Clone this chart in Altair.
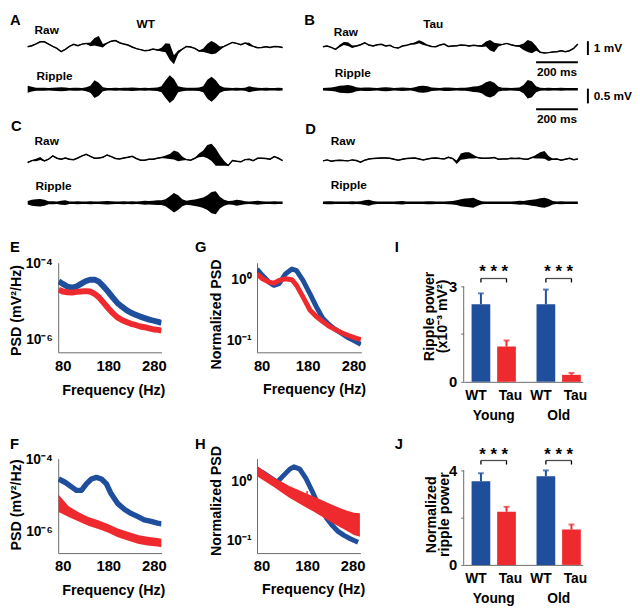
import altair as alt
import pandas as pd

BLUE = "#1f4e9c"
RED = "#ee2a2e"
AX = "#6a6a6a"
FONT = "Liberation Sans"

# ---------------- trace data (mV, one sample every 20 ms) ----------------
DT = 20
T_END = 1220

RAW_A = [0.00, 0.07, 0.21, 0.36, 0.36, 0.19, 0.02, -0.12, -0.36, -0.19,
         0.02, 0.17, 0.07, 0.19, 0.24, 0.17, 0.36, 0.40, 0.07, 0.26,
         0.40, 0.45, 0.29, 0.19, 0.12, -0.02, -0.14, -0.21, -0.29, -0.26,
         -0.17, -0.24, -0.21, -0.07, -0.36, -0.95, -0.40, -0.17, 0.02, -0.02,
         -0.12, -0.31, -0.26, -0.12, -0.07, -0.12, -0.12, 0.02, 0.17, 0.31,
         0.24, 0.14, 0.26, 0.17, 0.02, -0.07, -0.05, 0.00, -0.05, 0.02,
         0.00, -0.05]
RAW_A_BURST = [0, 0, 0, 0, 0, 0, 0, 0, 0, 0,
               0, 0, 0, 0, 0, 0.10, 0.25, 0.35, 0.10, 0,
               0, 0, 0, 0, 0, 0, 0, 0, 0, 0,
               0, 0, 0.10, 0.30, 0.55, 0.30, 0.10, 0, 0, 0,
               0, 0, 0.10, 0.30, 0.45, 0.35, 0.10, 0, 0, 0,
               0, 0, 0, 0.08, 0, 0, 0, 0, 0, 0,
               0, 0]
RIP_A = [0.12, 0.08, 0.05, 0.05, 0.05, 0.04, 0.05, 0.06, 0.07, 0.06,
         0.04, 0.05, 0.05, 0.04, 0.07, 0.12, 0.30, 0.22, 0.07, 0.04,
         0.04, 0.05, 0.04, 0.05, 0.05, 0.06, 0.05, 0.04, 0.05, 0.04,
         0.05, 0.06, 0.10, 0.30, 0.47, 0.35, 0.10, 0.07, 0.05, 0.05,
         0.05, 0.06, 0.10, 0.32, 0.42, 0.30, 0.12, 0.06, 0.05, 0.04,
         0.05, 0.04, 0.05, 0.10, 0.07, 0.05, 0.04, 0.05, 0.04, 0.04,
         0.05, 0.04]

RAW_B = [0.00, 0.05, -0.05, -0.19, 0.05, 0.24, 0.19, 0.00, 0.05, 0.14,
         0.29, 0.12, 0.05, 0.14, 0.17, 0.05, 0.10, -0.05, -0.10, 0.05,
         0.10, 0.19, 0.24, 0.36, 0.24, 0.10, 0.02, 0.00, 0.12, 0.19,
         0.02, 0.05, 0.07, 0.12, 0.10, 0.05, 0.10, 0.07, 0.05, 0.19,
         0.10, -0.05, 0.12, 0.17, 0.24, 0.14, 0.07, 0.05, 0.00, 0.05,
         -0.05, -0.12, -0.40, -0.45, -0.43, -0.38, -0.36, -0.29, -0.36, -0.29,
         -0.12, 0.19]
RAW_B_BURST = [0, 0, 0, 0, 0.06, 0.08, 0.10, 0.06, 0, 0,
               0, 0, 0, 0, 0, 0, 0, 0, 0, 0,
               0, 0, 0.05, 0.08, 0.08, 0, 0, 0, 0, 0,
               0, 0, 0, 0, 0, 0, 0, 0, 0.05, 0.15,
               0.35, 0.30, 0.08, 0, 0, 0, 0, 0.05, 0.20, 0.40,
               0.40, 0.15, 0, 0, 0, 0, 0, 0, 0, 0,
               0, 0]
RIP_B = [0.04, 0.05, 0.06, 0.08, 0.12, 0.13, 0.14, 0.12, 0.07, 0.05,
         0.06, 0.06, 0.05, 0.04, 0.06, 0.07, 0.06, 0.04, 0.05, 0.06,
         0.05, 0.04, 0.07, 0.11, 0.12, 0.10, 0.06, 0.05, 0.04, 0.06,
         0.06, 0.05, 0.04, 0.05, 0.05, 0.07, 0.09, 0.10, 0.14, 0.24,
         0.28, 0.22, 0.08, 0.05, 0.05, 0.04, 0.05, 0.06, 0.14, 0.31,
         0.27, 0.10, 0.05, 0.04, 0.05, 0.04, 0.04, 0.05, 0.04, 0.04,
         0.04, 0.04]

RAW_C = [-0.19, -0.05, 0.00, 0.10, -0.07, 0.05, 0.29, 0.12, 0.05, 0.14,
         0.05, 0.02, 0.14, 0.29, 0.40, 0.26, 0.12, 0.14, 0.19, 0.36,
         0.24, 0.10, 0.07, 0.14, 0.19, 0.26, 0.10, -0.02, -0.02, 0.05,
         0.05, 0.12, 0.17, 0.21, 0.24, 0.36, 0.24, 0.10, 0.02, -0.02,
         0.12, 0.33, 0.45, 0.60, 0.55, 0.20, -0.05, -0.24, -0.40, -0.05,
         -0.10, -0.14, 0.02, 0.05, -0.05, 0.12, 0.12, 0.10, 0.05, 0.24,
         0.12, -0.05]
RAW_C_BURST = [0, 0, 0.06, 0.08, 0, 0, 0, 0, 0, 0,
               0, 0, 0, 0, 0, 0, 0, 0, 0, 0,
               0, 0, 0, 0, 0, 0, 0, 0, 0, 0,
               0, 0, 0, 0.08, 0.15, 0.30, 0.30, 0.12, 0, 0,
               0, 0.10, 0.20, 0.45, 0.60, 0.60, 0.35, 0.15, 0, 0,
               0, 0, 0, 0, 0, 0, 0, 0, 0, 0,
               0, 0]
RIP_C = [0.06, 0.10, 0.12, 0.13, 0.10, 0.05, 0.05, 0.04, 0.07, 0.08,
         0.04, 0.04, 0.05, 0.04, 0.04, 0.05, 0.04, 0.04, 0.05, 0.06,
         0.05, 0.04, 0.04, 0.05, 0.04, 0.05, 0.04, 0.05, 0.07, 0.06,
         0.07, 0.08, 0.08, 0.12, 0.22, 0.33, 0.25, 0.12, 0.07, 0.09,
         0.11, 0.14, 0.18, 0.25, 0.36, 0.39, 0.20, 0.10, 0.06, 0.07,
         0.10, 0.08, 0.05, 0.04, 0.05, 0.07, 0.05, 0.04, 0.04, 0.05,
         0.04, 0.04]

RAW_D = [-0.07, 0.00, -0.10, -0.05, -0.02, -0.05, -0.07, 0.00, -0.05, -0.17,
         -0.02, 0.07, 0.10, 0.12, 0.14, 0.14, 0.12, 0.05, -0.02, 0.05,
         0.10, 0.12, 0.14, 0.07, 0.00, 0.07, 0.12, 0.14, 0.10, 0.07,
         0.19, 0.10, -0.17, 0.24, 0.30, 0.33, 0.24, 0.17, 0.12, 0.12,
         0.14, 0.17, 0.05, 0.07, 0.07, 0.12, 0.10, 0.12, 0.07, 0.05,
         0.17, 0.24, 0.33, 0.36, 0.10, 0.05, 0.07, -0.02, 0.05, 0.12,
         0.02, 0.07]
RAW_D_BURST = [0, 0, 0, 0, 0, 0, 0, 0, 0, 0,
               0, 0, 0, 0, 0, 0, 0, 0, 0, 0,
               0, 0, 0, 0, 0, 0, 0, 0, 0, 0,
               0, 0, 0.10, 0.20, 0.22, 0.20, 0.10, 0, 0, 0,
               0, 0, 0, 0, 0, 0, 0, 0, 0, 0,
               0, 0.10, 0.20, 0.25, 0.15, 0, 0, 0, 0, 0,
               0, 0]
RIP_D = [0.04, 0.05, 0.05, 0.04, 0.04, 0.04, 0.04, 0.05, 0.04, 0.05,
         0.08, 0.10, 0.06, 0.04, 0.04, 0.04, 0.04, 0.04, 0.05, 0.06,
         0.04, 0.04, 0.04, 0.04, 0.04, 0.05, 0.05, 0.04, 0.04, 0.04,
         0.05, 0.06, 0.08, 0.12, 0.14, 0.15, 0.17, 0.10, 0.05, 0.04,
         0.04, 0.04, 0.04, 0.04, 0.04, 0.04, 0.05, 0.07, 0.06, 0.08,
         0.10, 0.12, 0.15, 0.17, 0.13, 0.06, 0.04, 0.05, 0.04, 0.04,
         0.04, 0.04]

# ---------------- PSD data (log10 of mV^2/Hz, or of normalized PSD) ----------------
E_FREQ = [71, 80, 90, 100, 110, 120, 130, 140, 150, 160, 170, 180, 190, 200,
          210, 220, 230, 240, 250, 260, 270, 280, 290, 297]
E_WT = [-4.46, -4.53, -4.60, -4.63, -4.60, -4.53, -4.46, -4.42, -4.42, -4.48,
        -4.60, -4.74, -4.89, -5.03, -5.13, -5.22, -5.29, -5.34, -5.39, -5.43,
        -5.47, -5.50, -5.53, -5.56]
E_TAU = [-4.68, -4.73, -4.75, -4.76, -4.74, -4.73, -4.72, -4.73, -4.79, -4.89,
         -5.03, -5.17, -5.30, -5.41, -5.48, -5.53, -5.58, -5.61, -5.65, -5.67,
         -5.70, -5.73, -5.74, -5.76]

G_FREQ = [70, 82, 96, 107, 118, 132, 146, 156, 170, 185, 199, 213, 227, 241,
          255, 269, 283, 296]
G_WT = [0.172, 0.065, -0.043, -0.097, -0.070, 0.091, 0.172, 0.145, -0.016,
        -0.231, -0.446, -0.634, -0.742, -0.823, -0.887, -0.957, -1.011, -1.065]
G_TAU = [0.091, 0.011, -0.043, -0.059, -0.016, 0.011, -0.005, -0.097, -0.285,
         -0.500, -0.608, -0.688, -0.769, -0.823, -0.876, -0.919, -0.957, -0.984]

F_FREQ_WT = [71, 85, 100, 110, 121, 132, 143, 154, 165, 176, 186, 201, 216,
             230, 245, 259, 274, 288, 297]
F_WT = [-4.545, -4.635, -4.77, -4.86, -4.86, -4.68, -4.545, -4.50, -4.545,
        -4.68, -4.95, -5.23, -5.39, -5.50, -5.59, -5.68, -5.72, -5.77, -5.79]
F_FREQ_TAU = [71, 93, 114, 136, 158, 179, 201, 223, 245, 266, 288, 297]
F_TAU = [-5.22, -5.45, -5.59, -5.72, -5.81, -5.91, -6.04, -6.13, -6.22, -6.27,
         -6.30, -6.32]
F_TAU_SPREAD = [0.24, 0.15, 0.13, 0.12, 0.12, 0.12, 0.12, 0.12, 0.12, 0.12,
                0.12, 0.12]

H_FREQ_WT = [69, 82, 96, 107, 114, 128, 142, 151, 164, 178, 192, 202, 213,
             223, 234, 248, 262, 276, 292]
H_WT = [0.211, 0.156, 0.084, 0.027, -0.012, 0.100, 0.211, 0.251, 0.211, 0.044,
        -0.179, -0.347, -0.486, -0.626, -0.737, -0.849, -0.921, -0.978, -1.033]
H_FREQ_TAU = [69, 88, 107, 125, 142, 160, 177, 196, 213, 230, 248, 265, 283, 296]
H_TAU = [0.184, 0.080, -0.012, -0.100, -0.179, -0.250, -0.318, -0.390, -0.458,
         -0.530, -0.598, -0.660, -0.720, -0.740]
H_TAU_SPREAD = [0.09, 0.08, 0.08, 0.09, 0.10, 0.11, 0.12, 0.13, 0.14, 0.15,
                0.16, 0.17, 0.19, 0.20]
H_SPIKE = [180, -0.43, -0.16]   # frequency, log10 low, log10 high

# ---------------- bar data ----------------
GROUPS = ["Young", "Young", "Old", "Old"]
GENO = ["WT", "Tau", "WT", "Tau"]
I_VAL = [2.44, 1.11, 2.44, 0.22]
I_ERR = [0.34, 0.19, 0.46, 0.06]
J_VAL = [3.54, 2.25, 3.75, 1.50]
J_ERR = [0.34, 0.21, 0.25, 0.21]

T = [i * DT for i in range(len(RAW_A))]
PX_PER_MS = 259 / T_END
# left column trace views are 31 px wide, right column views start 67 px before the trace
W_LEFT, W_RIGHT, SHIFT_RIGHT = 31, 210, 67
XDOM_LEFT = [0, W_LEFT / PX_PER_MS]
XDOM_RIGHT = [-SHIFT_RIGHT / PX_PER_MS, (W_RIGHT - SHIFT_RIGHT) / PX_PER_MS]


def dummy():
    return pd.DataFrame({"d": [0]})


def label(text, x, y, size=12, align="left", baseline="middle"):
    return alt.Chart(dummy()).mark_text(
        text=text, fontSize=size, align=align, baseline=baseline,
        fontWeight="bold", font=FONT, color="black"
    ).encode(x=alt.value(x), y=alt.value(y))


def raw_layers(vals, burst, ydom, xdom):
    df = pd.DataFrame({"t": T, "v": vals,
                       "lo": [v - b - 0.03 for v, b in zip(vals, burst)],
                       "hi": [v + b + 0.03 for v, b in zip(vals, burst)]})
    ys = alt.Scale(domain=ydom, nice=False, zero=False)
    xs = alt.Scale(domain=xdom, nice=False, zero=False)
    x = alt.X("t:Q", scale=xs, axis=None)
    band = alt.Chart(df).mark_area(color="black").encode(
        x=x, y=alt.Y("lo:Q", scale=ys, axis=None), y2="hi:Q")
    line = alt.Chart(df).mark_line(color="black", strokeWidth=1.5).encode(
        x=x, y=alt.Y("v:Q", scale=ys, axis=None))
    return [band, line], ys, xs


def ripple_layers(env, ydom, xdom):
    df = pd.DataFrame({"t": T, "lo": [-a for a in env], "hi": env})
    ys = alt.Scale(domain=ydom, nice=False, zero=False)
    xs = alt.Scale(domain=xdom, nice=False, zero=False)
    area = alt.Chart(df).mark_area(color="black").encode(
        x=alt.X("t:Q", scale=xs, axis=None),
        y=alt.Y("lo:Q", scale=ys, axis=None), y2="hi:Q")
    return [area], ys, xs


def scalebar(ys, xs, tv, lo, hi, t0, t1, yh, vtext, htext):
    vdf = pd.DataFrame({"t": [tv], "lo": [lo], "hi": [hi], "m": [(lo + hi) / 2], "s": [vtext]})
    hdf = pd.DataFrame({"t0": [t0], "t1": [t1], "tm": [(t0 + t1) / 2], "y": [yh], "s": [htext]})
    vbar = alt.Chart(vdf).mark_rule(color="black", strokeWidth=2).encode(
        x=alt.X("t:Q", scale=xs, axis=None), y=alt.Y("lo:Q", scale=ys, axis=None), y2="hi:Q")
    hbar = alt.Chart(hdf).mark_rule(color="black", strokeWidth=2).encode(
        x=alt.X("t0:Q", scale=xs, axis=None), x2="t1:Q", y=alt.Y("y:Q", scale=ys, axis=None))
    vt = alt.Chart(vdf).mark_text(align="left", dx=6, fontSize=12, fontWeight="bold").encode(
        x=alt.X("t:Q", scale=xs, axis=None), y=alt.Y("m:Q", scale=ys, axis=None), text="s:N")
    ht = alt.Chart(hdf).mark_text(align="center", dy=10, fontSize=12, fontWeight="bold").encode(
        x=alt.X("tm:Q", scale=xs, axis=None), y=alt.Y("y:Q", scale=ys, axis=None), text="s:N")
    return [vbar, hbar, vt, ht]


R1H, R2H, R3H, R4H = 50, 58, 56, 44
R1D = [-1.536, 2.036]
R2D = [-1.21, 0.723]
R3D = [-1.464, 2.536]
R4D = [-0.70, 0.767]
S = SHIFT_RIGHT
LET = 15  # panel letter font size

# Row 1: raw A / raw B
la, _, _ = raw_layers(RAW_A, RAW_A_BURST, R1D, XDOM_LEFT)
A_raw = alt.layer(*la, label("Raw", 7, 12), label("WT", 120, 5, align="center"),
                  label("A", -18, -6, size=LET, baseline="top")).properties(width=W_LEFT, height=R1H)
lb, ysb, xsb = raw_layers(RAW_B, RAW_B_BURST, R1D, XDOM_RIGHT)
B_raw = alt.layer(*lb, *scalebar(ysb, xsb, 1268, -0.6, 0.4, 1020, 1220, -1.13, "1 mV", "200 ms"),
                  label("Raw", S + 11, 14), label("Tau", S + 112, 5, align="center"),
                  label("B", S - 19, -6, size=LET, baseline="top")).properties(width=W_RIGHT, height=R1H)
# Row 2: ripple A / B
ra, _, _ = ripple_layers(RIP_A, R2D, XDOM_LEFT)
A_rip = alt.layer(*ra, label("Ripple", 9, 8)).properties(width=W_LEFT, height=R2H)
rb, ysrb, xsrb = ripple_layers(RIP_B, R2D, XDOM_RIGHT)
B_rip = alt.layer(*rb, *scalebar(ysrb, xsrb, 1268, -0.48, 0.02, 1020, 1220, -0.677, "0.5 mV", "200 ms"),
                  label("Ripple", S + 12, 5)).properties(width=W_RIGHT, height=R2H)
# Row 3: raw C / D
lc, _, _ = raw_layers(RAW_C, RAW_C_BURST, R3D, XDOM_LEFT)
C_raw = alt.layer(*lc, label("Raw", 7, 16), label("C", -17, 1, size=LET)).properties(width=W_LEFT, height=R3H)
ld, _, _ = raw_layers(RAW_D, RAW_D_BURST, R3D, XDOM_RIGHT)
D_raw = alt.layer(*ld, label("Raw", S + 8, 16), label("D", S - 18, 4, size=LET)).properties(width=W_RIGHT, height=R3H)
# Row 4: ripple C / D
rc, _, _ = ripple_layers(RIP_C, R4D, XDOM_LEFT)
C_rip = alt.layer(*rc, label("Ripple", 8, 6)).properties(width=W_LEFT, height=R4H)
rd, _, _ = ripple_layers(RIP_D, R4D, XDOM_RIGHT)
D_rip = alt.layer(*rd, label("Ripple", S + 8, 5)).properties(width=W_RIGHT, height=R4H)

FX = alt.Scale(domain=[70, 297], nice=False, zero=False)


def psd_panel(width, height, ydom, yvals, yexpr, ytitle, ytx, yty, xtx, xty,
              lines, bands, spikes, letter, lx, ly):
    ys = alt.Scale(type="log", domain=ydom, nice=False)
    xaxis = alt.Axis(values=[80, 180, 280], title="Frequency (Hz)", titleX=xtx, titleY=xty,
                     titleBaseline="middle", titleAlign="center", labelPadding=6,
                     ticks=False, domainColor=AX, labelFontSize=15, titleFontSize=14.5,
                     labelFlush=False)
    yaxis = alt.Axis(values=yvals, labelExpr=yexpr, title=ytitle, titleX=ytx, titleY=yty,
                     titleAngle=-90, titleBaseline="middle", titleAlign="center",
                     labelPadding=6, ticks=False, domainColor=AX, labelFontSize=14,
                     titleFontSize=14.5, labelFlush=False)
    x = alt.X("f:Q", scale=FX, axis=xaxis)
    layers = []
    for freq, logs, color, sw in lines:
        df = pd.DataFrame({"f": freq, "p": [10 ** v for v in logs]})
        layers.append(alt.Chart(df).mark_line(color=color, strokeWidth=sw, clip=True,
                                              strokeJoin="round").encode(
            x=x, y=alt.Y("p:Q", scale=ys, axis=yaxis)))
    for freq, logs, spread, color in bands:
        df = pd.DataFrame({"f": freq,
                           "lo": [10 ** (v - s) for v, s in zip(logs, spread)],
                           "hi": [10 ** (v + s) for v, s in zip(logs, spread)]})
        layers.append(alt.Chart(df).mark_area(color=color, clip=True).encode(
            x=x, y=alt.Y("lo:Q", scale=ys, axis=yaxis), y2="hi:Q"))
    for f, lo, hi, color in spikes:
        df = pd.DataFrame({"f": [f], "lo": [10 ** lo], "hi": [10 ** hi]})
        layers.append(alt.Chart(df).mark_rule(color=color, strokeWidth=1.5).encode(
            x=x, y=alt.Y("lo:Q", scale=ys, axis=yaxis), y2="hi:Q"))
    layers.append(label(letter, lx, ly, size=LET))
    return alt.layer(*layers).properties(width=width, height=height)


E = psd_panel(105, 91, [10 ** -6.33, 10 ** -3.974], [1e-4, 1e-6],
              "datum.value > 5e-5 ? '10⁻⁴' : '10⁻⁶'", "PSD (mV²/Hz)", -42, 48, 56, 39,
              [(E_FREQ, E_WT, BLUE, 6), (E_FREQ, E_TAU, RED, 6)], [], [], "E", -49, -16)
G = psd_panel(106, 91, [10 ** -1.194, 10 ** 0.274], [1, 0.1],
              "datum.value > 0.5 ? '10⁰' : '10⁻¹'", "Normalized PSD", -41.5, 52, 58, 38,
              [(G_FREQ, G_WT, BLUE, 5), (G_FREQ, G_TAU, RED, 5)], [], [], "G", -63, -16)
F = psd_panel(105, 96, [10 ** -6.6, 10 ** -3.98], [1e-4, 1e-6],
              "datum.value > 5e-5 ? '10⁻⁴' : '10⁻⁶'", "PSD (mV²/Hz)", -42, 46.5, 56, 38,
              [(F_FREQ_WT, F_WT, BLUE, 5.5)], [(F_FREQ_TAU, F_TAU, F_TAU_SPREAD, RED)], [],
              "F", -49, -15)
H = psd_panel(105, 96, [10 ** -1.218, 10 ** 0.39], [1, 0.1],
              "datum.value > 0.5 ? '10⁰' : '10⁻¹'", "Normalized PSD", -41.5, 42.5, 57, 37,
              [(H_FREQ_WT, H_WT, BLUE, 5)], [(H_FREQ_TAU, H_TAU, H_TAU_SPREAD, RED)],
              [(H_SPIKE[0], H_SPIKE[1], H_SPIKE[2], RED)], "H", -63, -15)


def bar_panel(vals, errs, width, height, ytop, yticks, title_lines, ttx, tty,
              brk_y, brk_end, star_y, letter, lx, ly):
    df = pd.DataFrame({"group": GROUPS, "geno": GENO, "val": vals,
                       "top": [v + e for v, e in zip(vals, errs)],
                       "b0": [brk_end] * 4, "b1": [brk_y] * 4})
    gdf = pd.DataFrame({"group": ["Young", "Old"], "by": [brk_y] * 2, "sy": [star_y] * 2})
    adf = pd.DataFrame({"a": [0], "b": [yticks[-1]]})
    ys = alt.Scale(domain=[0, ytop], nice=False, zero=True)
    yaxis = alt.Axis(values=yticks, labelExpr=f"datum.value == {yticks[1]} ? '' : datum.label",
                     domain=False, tickSize=3, tickColor=AX, title=title_lines,
                     titleX=ttx, titleY=tty, titleAngle=-90, titleBaseline="middle",
                     titleAlign="center", titleLineHeight=13.5, labelPadding=4,
                     labelFontSize=15, titleFontSize=14.5)
    xs = alt.Scale(domain=["Young", "Old"], paddingInner=0.318, paddingOuter=0.0758, align=0.8)
    x = alt.X("group:N", scale=xs, axis=alt.Axis(title=None, labels=False, ticks=False, domainColor=AX))
    xo = alt.XOffset("geno:N", scale=alt.Scale(domain=["WT", "Tau"], paddingInner=0.269, paddingOuter=0))
    color = alt.Color("geno:N", scale=alt.Scale(domain=["WT", "Tau"], range=[BLUE, RED]), legend=None)

    def Y(field):
        return alt.Y(field + ":Q", scale=ys, axis=yaxis)

    axis_line = alt.Chart(adf).mark_rule(color=AX, strokeWidth=1).encode(
        x=alt.value(0), y=Y("a"), y2="b:Q")
    bars = alt.Chart(df).mark_bar().encode(x=x, xOffset=xo, y=Y("val"), color=color)
    err = alt.Chart(df).mark_rule(strokeWidth=2).encode(x=x, xOffset=xo, y=Y("val"), y2="top:Q", color=color)
    cap = alt.Chart(df).mark_tick(size=6, thickness=2).encode(x=x, xOffset=xo, y=Y("top"), color=color)
    ends = alt.Chart(df).mark_rule(color="black", strokeWidth=1.3).encode(
        x=x, xOffset=xo, y=Y("b0"), y2="b1:Q")
    brk = alt.Chart(gdf).mark_tick(color="black", size=26, thickness=1.3).encode(x=x, y=Y("by"))
    stars = alt.Chart(gdf).mark_text(text="* * *", fontSize=17, fontWeight="bold",
                                     baseline="middle").encode(x=x, y=Y("sy"))
    wt_lbl = alt.Chart(df).transform_filter(alt.datum.geno == "WT").mark_text(
        fontSize=14, fontWeight="bold", baseline="middle", dx=-5).encode(
        x=x, xOffset=xo, y=alt.value(height + 14), text="geno:N")
    tau_lbl = alt.Chart(df).transform_filter(alt.datum.geno == "Tau").mark_text(
        fontSize=14, fontWeight="bold", baseline="middle", dx=4).encode(
        x=x, xOffset=xo, y=alt.value(height + 14), text="geno:N")
    grp_lbl = alt.Chart(gdf).mark_text(fontSize=14, fontWeight="bold", baseline="middle").encode(
        x=x, y=alt.value(height + 35), text="group:N")
    return alt.layer(axis_line, bars, err, cap, ends, brk, stars, wt_lbl, tau_lbl, grp_lbl,
                     label(letter, lx, ly, size=LET)).properties(width=width, height=height)


I = bar_panel(I_VAL, I_ERR, 121, 121, 3.742, [0, 1.5, 3], ["Ripple power", "(x10⁻³ mV²)"],
              -34.5, 54, 3.247, 3.124, 3.46, "I", -70, -16)
J = bar_panel(J_VAL, J_ERR, 121, 108, 4.5, [0, 2, 4], ["Normalized", "ripple power"],
              -33, 56.5, 4.42, 4.25, 4.67, "J", -70, -15)


def sp(w, h):
    return alt.Chart(dummy()).mark_point(opacity=0, size=1).encode(
        x=alt.value(0), y=alt.value(0)).properties(width=w, height=h)


cells = [
    A_raw, sp(202, R1H), B_raw, sp(121, R1H),
    A_rip, sp(202, R2H), B_rip, sp(121, R2H),
    C_raw, sp(202, R3H), D_raw, sp(121, R3H),
    C_rip, sp(202, R4H), D_rip, sp(121, R4H),
    sp(31, 40), sp(1, 40), sp(1, 40), sp(1, 40),
    sp(31, 1), E, G, I,
    sp(31, 78), sp(1, 78), sp(1, 78), sp(1, 78),
    sp(31, 1), F, H, J,
]

chart = alt.concat(*cells, columns=4, spacing=0, bounds="flush", align="each").properties(
    padding=0
).configure(font=FONT).configure_view(stroke=None).configure_axis(
    labelFont=FONT, titleFont=FONT, labelFontWeight="bold", titleFontWeight="bold",
    labelColor="black", titleColor="black", grid=False
).configure_text(font=FONT, fontWeight="bold", color="black")

chart.save("out.html", embed_options={"renderer": "svg", "actions": False})
